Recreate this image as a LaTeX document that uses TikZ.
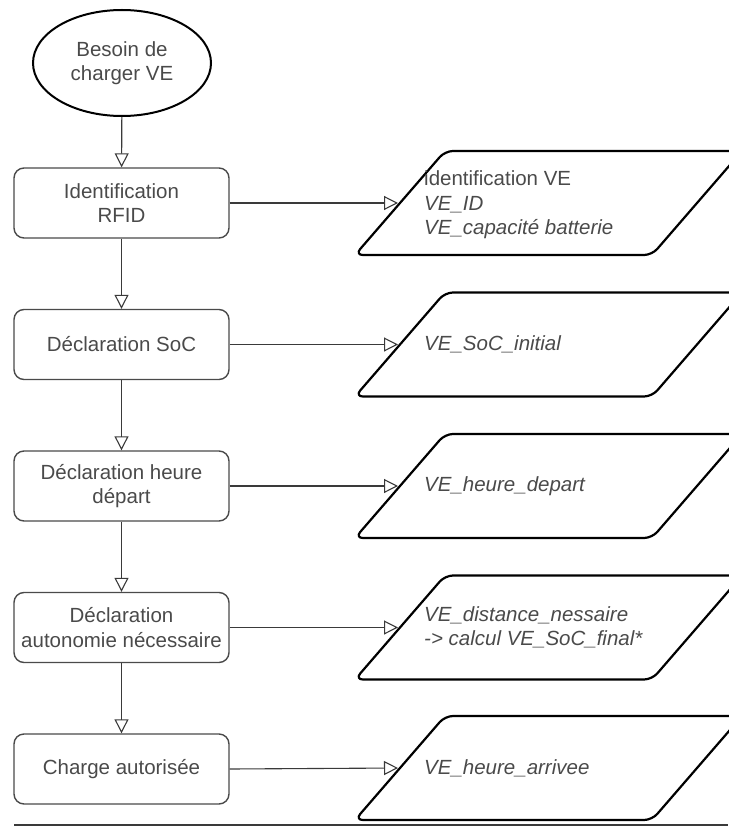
\documentclass[tikz,border=0pt]{standalone}
\usepackage{fontspec}
\setmainfont{Liberation Sans}
\usetikzlibrary{arrows.meta,shapes.geometric}
\definecolor{txtc}{HTML}{4A4A4A}
\definecolor{linec}{HTML}{3A3A3A}
\definecolor{boxc}{HTML}{4A4A4A}
\begin{document}
\begin{tikzpicture}[x=1pt,y=-1pt,
  every node/.style={font=\fontsize{20.5}{24.5}\selectfont, text=txtc},
  startn/.style={ellipse, draw=black, line width=2pt, minimum width=178pt, minimum height=106pt, inner sep=0pt, align=center},
  proc/.style={rectangle, rounded corners=10pt, draw=boxc, line width=1.4pt, minimum width=215pt, minimum height=70pt, inner sep=2pt, align=center},
  para/.style={draw=black, line width=2.2pt, rounded corners=8pt, line join=round},
  dat/.style={anchor=west, align=left, inner sep=0pt},
  arr/.style={draw=linec, line width=1.1pt, -{Triangle[open, length=14pt, width=14pt]}},
  botline/.style={draw=linec, line width=1.8pt}
]
\useasboundingbox (0,0) rectangle (728,826);

% process column
\node[startn] (s) at (122,63) {Besoin de\\charger VE};
\node[proc] (b1) at (121.5,203) {Identification\\RFID};
\node[proc] (b2) at (121.5,344.5) {Déclaration SoC};
\node[proc] (b3) at (121.5,486) {Déclaration heure\\départ};
\node[proc] (b4) at (121.5,627.5) {Déclaration\\autonomie nécessaire};
\node[proc] (b5) at (121.5,769) {Charge autorisée};

% data parallelograms
\draw[para] (355,255) -- (445,151) -- (742,151) -- (652,255) -- cycle;
\coordinate (p1) at (398,203);
\draw[para] (355,396.5) -- (445,292.5) -- (742,292.5) -- (652,396.5) -- cycle;
\coordinate (p2) at (398,344.5);
\draw[para] (355,538) -- (445,434) -- (742,434) -- (652,538) -- cycle;
\coordinate (p3) at (398,486);
\draw[para] (355,679.5) -- (445,575.5) -- (742,575.5) -- (652,679.5) -- cycle;
\coordinate (p4) at (398,627.5);
\draw[para] (355,820) -- (445,716) -- (742,716) -- (652,820) -- cycle;
\coordinate (p5) at (398,768);

\node[dat] (d1) at (424,205) {identification VE\\\textit{VE\_ID}\\\textit{VE\_capacité batterie}};
\node[dat] (d2) at (424,344.5) {\textit{VE\_SoC\_initial}};
\node[dat] (d3) at (424,486) {\textit{VE\_heure\_depart}};
\node[dat] (d4) at (424,627.5) {\textit{VE\_distance\_nessaire}\\\textit{-> calcul VE\_SoC\_final*}};
\node[dat] (d5) at (424,768) {\textit{VE\_heure\_arrivee}};

% vertical flow
\draw[arr] (s) -- (b1);
\draw[arr] (b1) -- (b2);
\draw[arr] (b2) -- (b3);
\draw[arr] (b3) -- (b4);
\draw[arr] (b4) -- (b5);

% data flow
\draw[arr] (b1.east) -- (p1);
\draw[arr] (b2.east) -- (p2);
\draw[arr] (b3.east) -- (p3);
\draw[arr] (b4.east) -- (p4);
\draw[arr] (b5.east) -- (p5);

% bottom rule
\coordinate (r1) at (14,825);
\coordinate (r2) at (728,825);
\draw[botline] (r1) -- (r2);
\end{tikzpicture}
\end{document}
